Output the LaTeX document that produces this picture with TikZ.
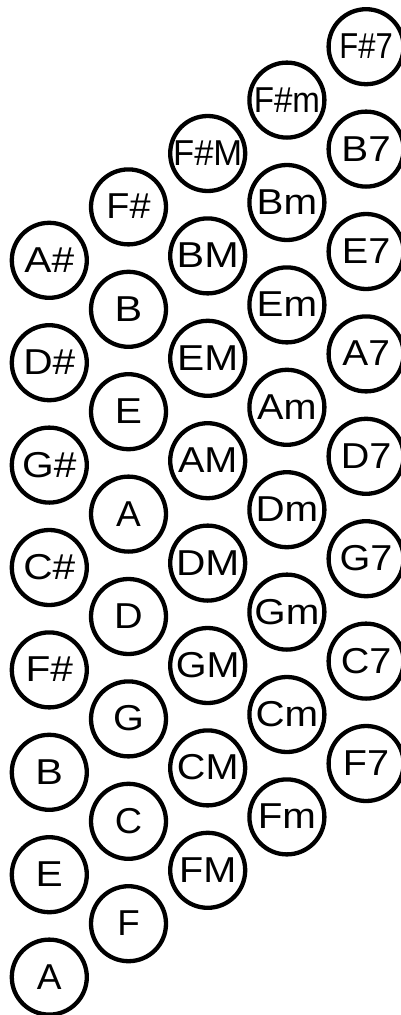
\documentclass[tikz,border=0pt]{standalone}
\usepackage{fontspec}
\usepackage{graphicx}
\setmainfont{Liberation Sans}
\begin{document}
\begin{tikzpicture}[x=1pt,y=1pt,
  btn/.style={draw=black, line width=4.3pt, circle, inner sep=0pt,
    minimum size=75pt, text height=24pt, text depth=0pt,
    font=\fontsize{36}{40}\selectfont}]
\useasboundingbox (0,0) rectangle (401,-1015);
\foreach \labs [count=\c from 0] in {
  {A\#/1.13,D\#/1.13,G\#/1.13,C\#/1.13,F\#/1.13,B/1.15,E/1.13,A/1.03},
  {F\#/1.05,B/1.15,E/1.13,A/1.03,D/1.1,G/1.1,C/1.05,F/1.02},
  {F\#M/0.96,BM/1.15,EM/1.13,AM/1.1,DM/1.13,GM/1.1,CM/1.1,FM/1.1},
  {F\#m/0.92,Bm/1.12,Em/1.12,Am/1.1,Dm/1.12,Gm/1.12,Cm/1.12,Fm/1.12},
  {F\#7/0.86,B7/1.12,E7/1.1,A7/1.08,D7/1.1,G7/1.1,C7/1.1,F7/1.1}}{
  \foreach \l/\s [count=\r from 0] in \labs {
    \node[btn] (c\c r\r) at ({49.3+79.2*\c}, {-(260.3-53.4*\c+102.4*\r)})
      {\scalebox{\s}[1]{\l}};
  }
}
\end{tikzpicture}
\end{document}
